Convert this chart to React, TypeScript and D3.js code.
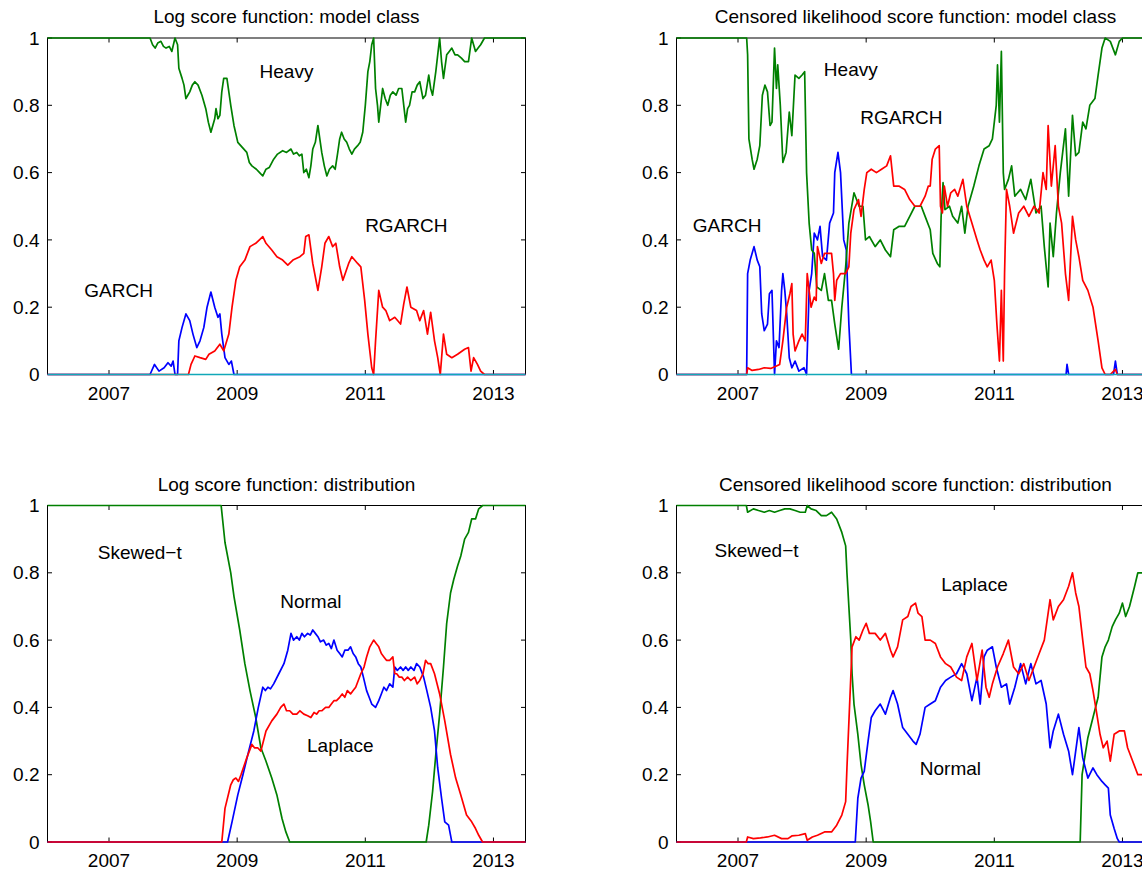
import React from "react";
import * as d3 from "d3";

type Pt = [number, number];

// ---------- shared axis data ----------
const X_DOMAIN: [number, number] = [2006.04, 2013.5];
const X_TICKS = [2007, 2009, 2011, 2013];
const Y_TICKS = [0, 0.2, 0.4, 0.6, 0.8, 1];

// ---------- Panel 1: Log score function: model class ----------
const tlHeavy: Pt[] = [[2006.04,1],[2007.64,1],[2007.68,0.98],[2007.72,0.97],[2007.76,0.985],[2007.81,0.99],[2007.85,0.975],[2007.89,0.97],[2007.94,0.975],[2007.98,0.96],[2008.03,1.0],[2008.07,0.98],[2008.09,0.91],[2008.14,0.88],[2008.17,0.86],[2008.20,0.82],[2008.23,0.83],[2008.26,0.84],[2008.30,0.86],[2008.34,0.87],[2008.39,0.86],[2008.45,0.83],[2008.51,0.79],[2008.55,0.75],[2008.59,0.72],[2008.62,0.74],[2008.65,0.76],[2008.67,0.79],[2008.70,0.76],[2008.73,0.77],[2008.76,0.84],[2008.79,0.88],[2008.84,0.88],[2008.87,0.84],[2008.90,0.80],[2008.95,0.74],[2009.01,0.69],[2009.08,0.675],[2009.15,0.66],[2009.19,0.63],[2009.23,0.62],[2009.30,0.61],[2009.35,0.6],[2009.40,0.59],[2009.45,0.61],[2009.50,0.615],[2009.57,0.64],[2009.63,0.655],[2009.71,0.665],[2009.77,0.66],[2009.84,0.67],[2009.88,0.655],[2009.93,0.66],[2009.97,0.65],[2010.01,0.655],[2010.04,0.60],[2010.08,0.61],[2010.12,0.585],[2010.15,0.62],[2010.18,0.67],[2010.22,0.69],[2010.26,0.74],[2010.29,0.70],[2010.32,0.66],[2010.36,0.62],[2010.40,0.59],[2010.44,0.61],[2010.49,0.62],[2010.53,0.61],[2010.57,0.66],[2010.60,0.70],[2010.63,0.72],[2010.67,0.70],[2010.71,0.69],[2010.75,0.67],[2010.79,0.655],[2010.83,0.67],[2010.88,0.68],[2010.92,0.69],[2010.96,0.72],[2011.00,0.80],[2011.04,0.90],[2011.07,0.93],[2011.10,0.98],[2011.13,1.0],[2011.16,0.85],[2011.19,0.80],[2011.21,0.75],[2011.24,0.80],[2011.27,0.85],[2011.31,0.82],[2011.35,0.80],[2011.39,0.83],[2011.43,0.84],[2011.48,0.83],[2011.52,0.85],[2011.57,0.85],[2011.60,0.80],[2011.63,0.75],[2011.66,0.79],[2011.69,0.80],[2011.73,0.84],[2011.77,0.84],[2011.81,0.86],[2011.85,0.87],[2011.90,0.82],[2011.94,0.83],[2011.99,0.89],[2012.02,0.85],[2012.05,0.83],[2012.10,0.90],[2012.13,0.95],[2012.16,1.0],[2012.19,0.93],[2012.22,0.88],[2012.27,0.95],[2012.31,0.96],[2012.35,0.97],[2012.40,0.95],[2012.44,0.95],[2012.50,0.94],[2012.55,0.93],[2012.61,0.93],[2012.66,1.0],[2012.72,0.96],[2012.76,0.97],[2012.80,0.98],[2012.86,1.0],[2013.5,1]];
const tlGarch: Pt[] = [[2006.04,0],[2007.64,0],[2007.71,0.03],[2007.78,0.01],[2007.86,0.02],[2007.92,0.035],[2007.97,0.025],[2008.00,0.04],[2008.03,0],[2008.07,0],[2008.09,0.10],[2008.14,0.14],[2008.20,0.18],[2008.26,0.16],[2008.31,0.12],[2008.37,0.08],[2008.42,0.10],[2008.48,0.14],[2008.53,0.20],[2008.59,0.245],[2008.65,0.20],[2008.70,0.17],[2008.73,0.18],[2008.76,0.12],[2008.81,0.05],[2008.87,0.03],[2008.91,0.04],[2008.95,0],[2013.5,0]];
const tlRgarch: Pt[] = [[2006.04,0],[2008.24,0],[2008.28,0.03],[2008.34,0.055],[2008.42,0.05],[2008.51,0.045],[2008.56,0.06],[2008.65,0.07],[2008.73,0.09],[2008.79,0.07],[2008.87,0.12],[2008.92,0.20],[2008.98,0.28],[2009.04,0.32],[2009.12,0.34],[2009.20,0.38],[2009.29,0.39],[2009.40,0.41],[2009.45,0.39],[2009.54,0.37],[2009.62,0.35],[2009.71,0.34],[2009.79,0.325],[2009.87,0.34],[2009.98,0.35],[2010.04,0.36],[2010.07,0.41],[2010.12,0.415],[2010.18,0.33],[2010.23,0.28],[2010.26,0.25],[2010.32,0.32],[2010.37,0.39],[2010.43,0.41],[2010.49,0.38],[2010.54,0.39],[2010.60,0.32],[2010.65,0.28],[2010.74,0.33],[2010.79,0.35],[2010.88,0.33],[2010.93,0.32],[2010.99,0.22],[2011.04,0.12],[2011.10,0.02],[2011.13,0],[2011.16,0.10],[2011.21,0.25],[2011.27,0.20],[2011.32,0.19],[2011.38,0.16],[2011.46,0.17],[2011.55,0.15],[2011.60,0.21],[2011.65,0.26],[2011.71,0.20],[2011.80,0.19],[2011.85,0.16],[2011.91,0.19],[2011.97,0.12],[2012.02,0.185],[2012.08,0.10],[2012.13,0.05],[2012.17,0],[2012.22,0.12],[2012.27,0.06],[2012.35,0.05],[2012.44,0.06],[2012.55,0.075],[2012.61,0.08],[2012.65,0.01],[2012.69,0.05],[2012.75,0.03],[2012.80,0.01],[2012.86,0],[2013.5,0]];
const tlOther: Pt[] = [[2006.04,0],[2013.5,0]];

// ---------- Panel 2: Censored likelihood score function: model class ----------
const trHeavy: Pt[] = [[2006.04,1],[2007.135,1],[2007.15,0.95],[2007.17,0.70],[2007.22,0.64],[2007.25,0.61],[2007.30,0.64],[2007.34,0.68],[2007.38,0.83],[2007.42,0.86],[2007.46,0.84],[2007.50,0.74],[2007.53,0.75],[2007.57,0.97],[2007.60,0.85],[2007.62,0.92],[2007.66,0.80],[2007.70,0.63],[2007.75,0.66],[2007.80,0.78],[2007.84,0.71],[2007.89,0.89],[2007.95,0.88],[2008.00,0.89],[2008.04,0.90],[2008.07,0.60],[2008.11,0.45],[2008.15,0.37],[2008.19,0.36],[2008.23,0.26],[2008.30,0.25],[2008.35,0.30],[2008.41,0.22],[2008.46,0.22],[2008.51,0.15],[2008.57,0.075],[2008.62,0.20],[2008.68,0.32],[2008.73,0.45],[2008.81,0.54],[2008.89,0.50],[2008.95,0.50],[2008.99,0.40],[2009.05,0.41],[2009.14,0.38],[2009.22,0.40],[2009.30,0.37],[2009.38,0.35],[2009.43,0.43],[2009.51,0.44],[2009.60,0.44],[2009.68,0.47],[2009.76,0.50],[2009.86,0.50],[2009.92,0.47],[2010.00,0.43],[2010.04,0.36],[2010.11,0.33],[2010.15,0.32],[2010.17,0.47],[2010.20,0.57],[2010.23,0.49],[2010.30,0.50],[2010.35,0.47],[2010.43,0.45],[2010.49,0.50],[2010.54,0.42],[2010.59,0.50],[2010.68,0.56],[2010.76,0.62],[2010.84,0.67],[2010.92,0.68],[2010.97,0.70],[2011.03,0.80],[2011.05,0.92],[2011.08,0.75],[2011.11,0.96],[2011.14,0.60],[2011.16,0.55],[2011.22,0.58],[2011.27,0.62],[2011.32,0.53],[2011.41,0.55],[2011.49,0.52],[2011.57,0.58],[2011.65,0.48],[2011.73,0.50],[2011.78,0.38],[2011.84,0.26],[2011.87,0.45],[2011.92,0.35],[2011.97,0.48],[2012.03,0.60],[2012.11,0.73],[2012.16,0.53],[2012.22,0.77],[2012.27,0.65],[2012.32,0.66],[2012.38,0.75],[2012.43,0.73],[2012.49,0.80],[2012.57,0.82],[2012.62,0.89],[2012.68,0.97],[2012.73,1.0],[2012.81,0.99],[2012.89,0.95],[2012.95,0.99],[2013.0,1.0],[2013.5,1]];
const trGarch: Pt[] = [[2006.04,0],[2007.135,0],[2007.15,0.30],[2007.19,0.34],[2007.25,0.38],[2007.30,0.34],[2007.34,0.32],[2007.37,0.18],[2007.41,0.13],[2007.46,0.15],[2007.49,0.24],[2007.53,0.25],[2007.57,0],[2007.60,0.10],[2007.64,0.08],[2007.68,0.25],[2007.70,0.30],[2007.73,0.25],[2007.76,0.18],[2007.80,0.05],[2007.84,0.02],[2007.89,0.04],[2007.95,0.01],[2008.03,0.02],[2008.07,0],[2008.11,0.25],[2008.15,0.30],[2008.19,0.42],[2008.24,0.40],[2008.28,0.44],[2008.32,0.35],[2008.38,0.34],[2008.43,0.45],[2008.49,0.48],[2008.51,0.60],[2008.56,0.66],[2008.60,0.60],[2008.65,0.40],[2008.69,0.37],[2008.73,0.15],[2008.77,0],[2012.12,0],[2012.135,0.03],[2012.16,0],[2012.86,0],[2012.89,0.04],[2012.92,0],[2013.5,0]];
const trRgarch: Pt[] = [[2006.04,0],[2007.135,0],[2007.15,0.02],[2007.22,0.012],[2007.32,0.015],[2007.41,0.02],[2007.51,0.018],[2007.60,0.025],[2007.65,0.03],[2007.70,0.10],[2007.76,0.20],[2007.81,0.24],[2007.84,0.27],[2007.86,0.12],[2007.89,0.07],[2007.95,0.10],[2008.00,0.12],[2008.05,0.10],[2008.08,0.30],[2008.14,0.20],[2008.19,0.23],[2008.22,0.22],[2008.24,0.38],[2008.30,0.33],[2008.35,0.36],[2008.41,0.36],[2008.46,0.36],[2008.49,0.30],[2008.51,0.22],[2008.54,0.28],[2008.60,0.30],[2008.68,0.30],[2008.73,0.32],[2008.76,0.42],[2008.81,0.49],[2008.88,0.52],[2008.92,0.47],[2008.97,0.55],[2009.01,0.60],[2009.08,0.61],[2009.16,0.60],[2009.24,0.61],[2009.32,0.62],[2009.38,0.65],[2009.43,0.56],[2009.51,0.56],[2009.60,0.55],[2009.68,0.52],[2009.76,0.50],[2009.84,0.50],[2009.92,0.53],[2009.97,0.56],[2010.00,0.56],[2010.03,0.64],[2010.08,0.67],[2010.14,0.68],[2010.16,0.50],[2010.19,0.48],[2010.22,0.56],[2010.27,0.50],[2010.32,0.54],[2010.38,0.55],[2010.43,0.53],[2010.51,0.58],[2010.57,0.50],[2010.65,0.45],[2010.73,0.40],[2010.78,0.37],[2010.84,0.34],[2010.89,0.32],[2010.95,0.34],[2011.00,0.28],[2011.04,0.15],[2011.08,0.04],[2011.11,0.25],[2011.14,0.04],[2011.16,0.30],[2011.19,0.55],[2011.24,0.50],[2011.30,0.42],[2011.38,0.48],[2011.46,0.50],[2011.54,0.47],[2011.62,0.50],[2011.70,0.48],[2011.76,0.60],[2011.81,0.55],[2011.84,0.74],[2011.89,0.56],[2011.95,0.68],[2012.00,0.50],[2012.05,0.45],[2012.11,0.30],[2012.16,0.22],[2012.22,0.47],[2012.27,0.40],[2012.32,0.35],[2012.38,0.28],[2012.46,0.25],[2012.54,0.20],[2012.62,0.10],[2012.68,0.02],[2012.73,0],[2012.81,0],[2012.89,0.015],[2012.92,0],[2013.5,0]];
const trOther: Pt[] = [[2006.04,0],[2013.5,0]];

// ---------- Panel 3: Log score function: distribution ----------
const blSkew: Pt[] = [[2006.04,1],[2008.75,1],[2008.81,0.89],[2008.90,0.80],[2008.95,0.73],[2009.04,0.63],[2009.12,0.53],[2009.20,0.45],[2009.29,0.37],[2009.37,0.28],[2009.45,0.24],[2009.54,0.19],[2009.62,0.14],[2009.70,0.07],[2009.76,0.03],[2009.82,0],[2011.95,0],[2011.99,0.05],[2012.05,0.15],[2012.10,0.26],[2012.16,0.38],[2012.22,0.52],[2012.27,0.65],[2012.33,0.74],[2012.38,0.78],[2012.44,0.82],[2012.49,0.85],[2012.55,0.90],[2012.61,0.92],[2012.66,0.96],[2012.72,0.96],[2012.77,0.99],[2012.83,1],[2013.5,1]];
const blNormal: Pt[] = [[2006.04,0],[2008.85,0],[2008.92,0.06],[2009.01,0.14],[2009.09,0.20],[2009.18,0.27],[2009.26,0.33],[2009.33,0.40],[2009.40,0.46],[2009.44,0.45],[2009.48,0.46],[2009.52,0.455],[2009.57,0.47],[2009.65,0.50],[2009.73,0.53],[2009.79,0.57],[2009.84,0.62],[2009.88,0.60],[2009.93,0.61],[2009.97,0.60],[2010.01,0.62],[2010.05,0.61],[2010.10,0.62],[2010.14,0.615],[2010.18,0.63],[2010.22,0.62],[2010.26,0.61],[2010.30,0.595],[2010.35,0.60],[2010.39,0.585],[2010.43,0.59],[2010.47,0.575],[2010.51,0.60],[2010.56,0.57],[2010.60,0.56],[2010.64,0.55],[2010.68,0.57],[2010.73,0.57],[2010.77,0.58],[2010.81,0.56],[2010.85,0.55],[2010.89,0.53],[2010.93,0.52],[2010.97,0.49],[2011.02,0.45],[2011.06,0.43],[2011.10,0.41],[2011.16,0.40],[2011.21,0.42],[2011.25,0.44],[2011.29,0.46],[2011.33,0.45],[2011.38,0.47],[2011.43,0.46],[2011.46,0.52],[2011.50,0.51],[2011.55,0.52],[2011.59,0.51],[2011.63,0.52],[2011.67,0.51],[2011.71,0.52],[2011.76,0.51],[2011.80,0.53],[2011.85,0.52],[2011.91,0.49],[2011.96,0.45],[2012.02,0.40],[2012.08,0.33],[2012.13,0.22],[2012.19,0.13],[2012.24,0.06],[2012.30,0.05],[2012.34,0.01],[2012.35,0],[2013.5,0]];
const blLaplace: Pt[] = [[2006.04,0],[2008.76,0],[2008.81,0.10],[2008.90,0.17],[2008.94,0.185],[2008.98,0.19],[2009.02,0.18],[2009.06,0.20],[2009.15,0.25],[2009.23,0.29],[2009.27,0.28],[2009.32,0.28],[2009.37,0.27],[2009.45,0.33],[2009.54,0.36],[2009.62,0.38],[2009.68,0.40],[2009.73,0.41],[2009.77,0.39],[2009.82,0.39],[2009.87,0.38],[2009.93,0.38],[2009.98,0.39],[2010.04,0.38],[2010.10,0.375],[2010.15,0.37],[2010.20,0.385],[2010.24,0.38],[2010.28,0.39],[2010.32,0.39],[2010.38,0.40],[2010.43,0.40],[2010.47,0.41],[2010.51,0.42],[2010.55,0.42],[2010.60,0.43],[2010.64,0.44],[2010.68,0.43],[2010.72,0.45],[2010.77,0.44],[2010.81,0.45],[2010.85,0.46],[2010.89,0.48],[2010.93,0.50],[2010.98,0.52],[2011.02,0.55],[2011.07,0.58],[2011.13,0.60],[2011.17,0.59],[2011.21,0.58],[2011.25,0.56],[2011.29,0.55],[2011.33,0.54],[2011.38,0.54],[2011.43,0.55],[2011.46,0.50],[2011.49,0.50],[2011.53,0.49],[2011.57,0.49],[2011.61,0.48],[2011.66,0.49],[2011.71,0.48],[2011.77,0.49],[2011.81,0.47],[2011.85,0.48],[2011.90,0.50],[2011.94,0.54],[2011.98,0.53],[2012.02,0.53],[2012.08,0.50],[2012.16,0.44],[2012.24,0.36],[2012.33,0.26],[2012.41,0.19],[2012.49,0.14],[2012.58,0.08],[2012.66,0.06],[2012.72,0.04],[2012.77,0.02],[2012.83,0],[2013.5,0]];

// ---------- Panel 4: Censored likelihood score function: distribution ----------
const brSkew: Pt[] = [[2006.04,1],[2007.13,1],[2007.15,0.98],[2007.24,0.99],[2007.32,0.985],[2007.41,0.98],[2007.49,0.985],[2007.57,0.98],[2007.65,0.985],[2007.73,0.99],[2007.81,0.99],[2007.89,0.985],[2007.97,0.98],[2008.05,0.98],[2008.08,1.0],[2008.14,0.99],[2008.22,0.985],[2008.30,0.97],[2008.38,0.97],[2008.46,0.98],[2008.54,0.96],[2008.62,0.92],[2008.68,0.88],[2008.70,0.80],[2008.73,0.70],[2008.76,0.60],[2008.78,0.50],[2008.81,0.41],[2008.87,0.32],[2008.92,0.23],[2008.97,0.17],[2009.03,0.11],[2009.07,0.06],[2009.11,0],[2012.34,0],[2012.37,0.20],[2012.41,0.25],[2012.46,0.31],[2012.54,0.37],[2012.62,0.43],[2012.68,0.55],[2012.73,0.58],[2012.78,0.60],[2012.84,0.64],[2012.89,0.66],[2012.95,0.68],[2013.00,0.71],[2013.05,0.67],[2013.11,0.70],[2013.19,0.76],[2013.24,0.80],[2013.31,0.80],[2013.40,0.82],[2013.5,0.83]];
const brNormal: Pt[] = [[2006.04,0],[2008.83,0],[2008.87,0.13],[2008.92,0.19],[2008.97,0.21],[2009.03,0.30],[2009.08,0.37],[2009.14,0.39],[2009.22,0.41],[2009.30,0.38],[2009.38,0.43],[2009.42,0.45],[2009.49,0.41],[2009.57,0.34],[2009.65,0.32],[2009.73,0.30],[2009.78,0.29],[2009.84,0.32],[2009.92,0.40],[2010.00,0.41],[2010.08,0.42],[2010.16,0.46],[2010.24,0.48],[2010.32,0.49],[2010.41,0.50],[2010.49,0.53],[2010.57,0.50],[2010.65,0.42],[2010.73,0.49],[2010.78,0.41],[2010.84,0.55],[2010.89,0.57],[2010.97,0.58],[2011.03,0.52],[2011.11,0.46],[2011.19,0.47],[2011.24,0.41],[2011.32,0.46],[2011.41,0.53],[2011.49,0.47],[2011.57,0.53],[2011.65,0.47],[2011.73,0.48],[2011.81,0.41],[2011.87,0.28],[2011.92,0.33],[2012.00,0.38],[2012.08,0.32],[2012.16,0.27],[2012.22,0.20],[2012.27,0.27],[2012.32,0.34],[2012.38,0.25],[2012.46,0.19],[2012.54,0.22],[2012.60,0.20],[2012.68,0.18],[2012.73,0.17],[2012.78,0.16],[2012.81,0.08],[2012.87,0.04],[2012.92,0.01],[2012.95,0],[2013.5,0]];
const brLaplace: Pt[] = [[2006.04,0],[2007.13,0],[2007.15,0.015],[2007.24,0.01],[2007.35,0.012],[2007.46,0.015],[2007.57,0.02],[2007.68,0.01],[2007.78,0.01],[2007.84,0.018],[2007.95,0.02],[2008.05,0.025],[2008.08,0.005],[2008.16,0.015],[2008.24,0.02],[2008.35,0.03],[2008.46,0.03],[2008.54,0.05],[2008.62,0.08],[2008.68,0.12],[2008.70,0.22],[2008.74,0.40],[2008.78,0.58],[2008.84,0.61],[2008.89,0.60],[2008.95,0.63],[2009.00,0.65],[2009.05,0.62],[2009.14,0.62],[2009.22,0.60],[2009.30,0.62],[2009.38,0.57],[2009.42,0.55],[2009.49,0.58],[2009.57,0.66],[2009.65,0.67],[2009.70,0.70],[2009.77,0.71],[2009.81,0.68],[2009.87,0.67],[2009.92,0.60],[2010.00,0.60],[2010.08,0.59],[2010.16,0.55],[2010.24,0.53],[2010.32,0.52],[2010.41,0.49],[2010.49,0.48],[2010.57,0.55],[2010.65,0.59],[2010.73,0.48],[2010.81,0.57],[2010.87,0.46],[2010.92,0.43],[2010.97,0.47],[2011.05,0.52],[2011.14,0.56],[2011.22,0.60],[2011.30,0.52],[2011.38,0.50],[2011.46,0.53],[2011.54,0.48],[2011.62,0.52],[2011.70,0.56],[2011.78,0.60],[2011.87,0.72],[2011.92,0.66],[2012.00,0.70],[2012.08,0.72],[2012.16,0.76],[2012.22,0.80],[2012.27,0.74],[2012.32,0.70],[2012.38,0.60],[2012.43,0.52],[2012.49,0.50],[2012.54,0.45],[2012.60,0.38],[2012.65,0.32],[2012.70,0.28],[2012.76,0.30],[2012.81,0.24],[2012.87,0.32],[2012.95,0.33],[2013.03,0.33],[2013.08,0.28],[2013.16,0.24],[2013.24,0.20],[2013.31,0.20],[2013.40,0.19],[2013.5,0.18]];

// ---------- titles and in-plot labels ----------
const TITLES = [
  "Log score function: model class",
  "Censored likelihood score function: model class",
  "Log score function: distribution",
  "Censored likelihood score function: distribution",
];
type Label = { text: string; x: number; y: number };
const tlLabels: Label[] = [
  { text: "Heavy", x: 2009.77, y: 0.881 },
  { text: "RGARCH", x: 2011.64, y: 0.423 },
  { text: "GARCH", x: 2007.15, y: 0.231 },
];
const trLabels: Label[] = [
  { text: "Heavy", x: 2008.76, y: 0.887 },
  { text: "RGARCH", x: 2009.55, y: 0.744 },
  { text: "GARCH", x: 2006.83, y: 0.424 },
];
const blLabels: Label[] = [
  { text: "Skewed\u2212t", x: 2007.48, y: 0.841 },
  { text: "Normal", x: 2010.15, y: 0.696 },
  { text: "Laplace", x: 2010.61, y: 0.267 },
];
const brLabels: Label[] = [
  { text: "Skewed\u2212t", x: 2007.29, y: 0.848 },
  { text: "Laplace", x: 2010.69, y: 0.747 },
  { text: "Normal", x: 2010.315, y: 0.199 },
];

const BLUE = "#0000ff";
const GREEN = "#008000";
const RED = "#ff0000";
const CYAN = "#12a8b8";

type Series = { data: Pt[]; color: string };

const FONT = "'Liberation Sans', Arial, Helvetica, sans-serif";
const FS = 19;

function Panel(props: {
  x0: number; x1: number; y0: number; y1: number;
  title: string; series: Series[]; labels: Label[];
}) {
  const { x0, x1, y0, y1, title, series, labels } = props;
  const xs = d3.scaleLinear().domain(X_DOMAIN).range([x0, x1]);
  const ys = d3.scaleLinear().domain([0, 1]).range([y1, y0]);
  const line = d3.line<Pt>().x((d) => xs(d[0])).y((d) => ys(d[1]));
  const tl = 4.5;
  const fmt = (v: number) => (v === 0 ? "0" : v === 1 ? "1" : String(v));
  return (
    <g>
      <text x={(x0 + x1) / 2} y={y0 - 15} textAnchor="middle" fontSize={FS} fontFamily={FONT} fill="#000">
        {title}
      </text>
      <rect x={x0} y={y0} width={x1 - x0} height={y1 - y0} fill="#fff" stroke="#000" strokeWidth={1} />
      {X_TICKS.map((t) => (
        <g key={"x" + t}>
          <line x1={xs(t)} x2={xs(t)} y1={y1} y2={y1 - tl} stroke="#000" strokeWidth={1} />
          <line x1={xs(t)} x2={xs(t)} y1={y0} y2={y0 + tl} stroke="#000" strokeWidth={1} />
          <text x={xs(t)} y={y1 + 25} textAnchor="middle" fontSize={FS} fontFamily={FONT} fill="#000">
            {t}
          </text>
        </g>
      ))}
      {Y_TICKS.map((t) => (
        <g key={"y" + t}>
          <line x1={x0} x2={x0 + tl} y1={ys(t)} y2={ys(t)} stroke="#000" strokeWidth={1} />
          <line x1={x1} x2={x1 - tl} y1={ys(t)} y2={ys(t)} stroke="#000" strokeWidth={1} />
          <text x={x0 - 8} y={ys(t)} dy="0.35em" textAnchor="end" fontSize={FS} fontFamily={FONT} fill="#000">
            {fmt(t)}
          </text>
        </g>
      ))}
      {series.map((s, i) => (
        <path key={i} d={line(s.data) || ""} fill="none" stroke={s.color} strokeWidth={1.7} strokeLinejoin="round" />
      ))}
      {labels.map((l) => (
        <text key={l.text} x={xs(l.x)} y={ys(l.y)} textAnchor="middle" fontSize={FS} fontFamily={FONT} fill="#000">
          {l.text}
        </text>
      ))}
    </g>
  );
}

export default function App() {
  const L = { x0: 47.5, x1: 525.5 };
  const R = { x0: 676.5, x1: 1154.5 };
  const T = { y0: 38, y1: 374.5 };
  const B = { y0: 505.5, y1: 842 };
  return (
    <svg
      width={1142}
      height={872}
      style={{ position: "absolute", left: 0, top: 0, background: "#fff" }}
    >
      <rect x={0} y={0} width={1142} height={872} fill="#fff" />
      <Panel {...L} {...T} title={TITLES[0]} labels={tlLabels}
        series={[{ data: tlGarch, color: BLUE }, { data: tlHeavy, color: GREEN }, { data: tlRgarch, color: RED }, { data: tlOther, color: CYAN }]} />
      <Panel {...R} {...T} title={TITLES[1]} labels={trLabels}
        series={[{ data: trGarch, color: BLUE }, { data: trHeavy, color: GREEN }, { data: trRgarch, color: RED }, { data: trOther, color: CYAN }]} />
      <Panel {...L} {...B} title={TITLES[2]} labels={blLabels}
        series={[{ data: blSkew, color: GREEN }, { data: blNormal, color: BLUE }, { data: blLaplace, color: RED }]} />
      <Panel {...R} {...B} title={TITLES[3]} labels={brLabels}
        series={[{ data: brSkew, color: GREEN }, { data: brNormal, color: BLUE }, { data: brLaplace, color: RED }]} />
    </svg>
  );
}
